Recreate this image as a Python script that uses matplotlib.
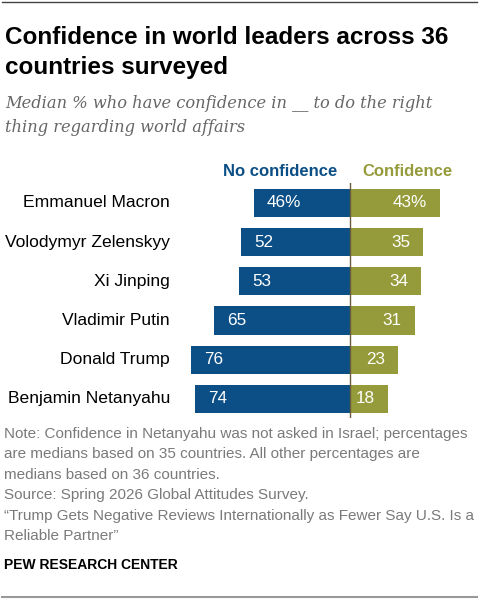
import matplotlib.pyplot as plt

# Daten
leaders = ["Emmanuel Macron", "Volodymyr Zelenskyy", "Xi Jinping",
           "Vladimir Putin", "Donald Trump", "Benjamin Netanyahu"]
no_confidence = [46, 52, 53, 65, 76, 74]
confidence = [43, 35, 34, 31, 23, 18]

BLUE = "#0b4f86"
GREEN = "#959b3a"
GREY = "#7a7a7a"
FONT = "Liberation Sans"

W, H = 479, 600
fig = plt.figure(figsize=(W / 100, H / 100), dpi=100)


def fx(px):
    return px / W


def fy(px):
    return 1 - px / H


# Linie oben und unten
fig.add_artist(plt.Line2D([fx(2), fx(477)], [fy(2), fy(2)], color="#444444", lw=1))
fig.add_artist(plt.Line2D([fx(2), fx(477)], [fy(597), fy(597)], color="#999999", lw=1.5))

# Titel
fig.text(fx(5), fy(44), "Confidence in world leaders across 36", fontsize=17.5,
         fontweight="bold", family=FONT, va="baseline")
fig.text(fx(5), fy(74), "countries surveyed", fontsize=17.5,
         fontweight="bold", family=FONT, va="baseline")

# Untertitel
fig.text(fx(5), fy(108), "Median % who have confidence in __ to do the right",
         fontsize=11.7, style="italic", family="DejaVu Serif", color="#666666", va="baseline")
fig.text(fx(5), fy(132), "thing regarding world affairs",
         fontsize=11.7, style="italic", family="DejaVu Serif", color="#666666", va="baseline")

# Diagramm
ax_left, ax_right, ax_top, ax_bottom = 170, 470, 183, 418
center = 350
scale = 2.09  # px pro Prozentpunkt
ax = fig.add_axes([fx(ax_left), fy(ax_bottom), (ax_right - ax_left) / W,
                   (ax_bottom - ax_top) / H])
spacing = 39.2
top_off = (203 - ax_top) / spacing
ax.set_xlim(-(center - ax_left) / scale, (ax_right - center) / scale)
ax.set_ylim(len(leaders) - top_off, -top_off)
ax.axis("off")

ypos = range(len(leaders))
ax.barh(ypos, [-v for v in no_confidence], height=0.72, color=BLUE)
ax.barh(ypos, confidence, height=0.72, color=GREEN)
ax.axvline(0, color="#6b5a3a", lw=1)

for i, (name, nc, c) in enumerate(zip(leaders, no_confidence, confidence)):
    suffix = "%" if i == 0 else ""
    ax.text(-nc + 6.2, i, f"{nc}{suffix}", color="white", fontsize=12.3,
            family=FONT, va="center", ha="left")
    ax.text(c - 6.2, i, f"{c}{suffix}", color="white", fontsize=12.3,
            family=FONT, va="center", ha="right")
    ax.text(-(center - ax_left) / scale, i, name, fontsize=12.6, family=FONT,
            va="center", ha="right")

# Kopfzeilen
fig.text(fx(280), fy(176), "No confidence", fontsize=12, fontweight="bold",
         color=BLUE, family=FONT, ha="center", va="baseline")
fig.text(fx(407), fy(176), "Confidence", fontsize=12, fontweight="bold",
         color=GREEN, family=FONT, ha="center", va="baseline")

# Anmerkungen
notes = [
    "Note: Confidence in Netanyahu was not asked in Israel; percentages",
    "are medians based on 35 countries. All other percentages are",
    "medians based on 36 countries.",
    "Source: Spring 2026 Global Attitudes Survey.",
    "\u201cTrump Gets Negative Reviews Internationally as Fewer Say U.S. Is a",
    "Reliable Partner\u201d",
]
for k, line in enumerate(notes):
    fig.text(fx(4), fy(438 + k * 20.4), line, fontsize=11, family=FONT,
             color=GREY, va="baseline")

fig.text(fx(4), fy(569), "PEW RESEARCH CENTER", fontsize=10, fontweight="bold",
         family=FONT, va="baseline")

fig.savefig("out.png", dpi=100)
